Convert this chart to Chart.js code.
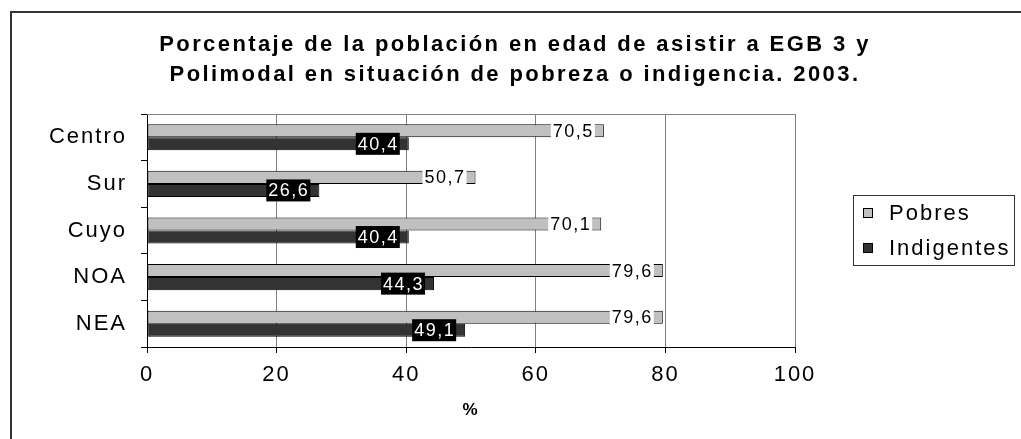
<!DOCTYPE html>
<html lang="es">
<head>
<meta charset="utf-8">
<title>Pobreza e indigencia 2003</title>
<script src="https://cdn.jsdelivr.net/npm/chart.js@4/dist/chart.umd.min.js"></script>
<style>
    html, body { margin: 0; padding: 0; background: #fff; }
    #wrap { width: 1021px; height: 439px; position: relative; }
</style>
</head>
<body>
<div id="wrap"><canvas id="chart"></canvas></div>
<script>
// Data
const regiones = ['Centro', 'Sur', 'Cuyo', 'NOA', 'NEA'];
const pobres = [70.5, 50.7, 70.1, 79.6, 79.6];
const indigentes = [40.4, 26.6, 40.4, 44.3, 49.1];
const escalaX = [0, 20, 40, 60, 80, 100];
const tituloLineas = [
    'Porcentaje de la población en edad de asistir a EGB 3 y',
    'Polimodal en situación de pobreza o indigencia. 2003.'
];

const FONT = "'Liberation Sans', Arial, sans-serif";

function fmt(v) {
    return v.toFixed(1).replace('.', ',');
}

// outer frame, plot top line, text spacing
const framePlugin = {
    id: 'frame',
    beforeDraw(chart) {
        const ctx = chart.ctx;
        ctx.save();
        ctx.strokeStyle = '#333';
        ctx.lineWidth = 2;
        ctx.strokeRect(11, 12, 1200, 600);
        ctx.restore();
        ctx.letterSpacing = '2px';
    },
    beforeDatasetsDraw(chart) {
        const { ctx, chartArea } = chart;
        ctx.save();
        ctx.strokeStyle = '#808080';
        ctx.lineWidth = 1;
        ctx.beginPath();
        ctx.moveTo(chartArea.left, chartArea.top + 0.5);
        ctx.lineTo(chartArea.right, chartArea.top + 0.5);
        ctx.stroke();
        ctx.restore();
    }
};

// value boxes at the end of each bar
const labelPlugin = {
    id: 'valueLabels',
    afterDatasetsDraw(chart) {
        const ctx = chart.ctx;
        ctx.save();
        ctx.font = '18px ' + FONT;
        ctx.letterSpacing = '1.5px';
        ctx.textBaseline = 'middle';
        ctx.textAlign = 'left';
        chart.data.datasets.forEach((ds, di) => {
            const meta = chart.getDatasetMeta(di);
            meta.data.forEach((bar, i) => {
                const txt = fmt(ds.data[i]);
                const w = ctx.measureText(txt).width;
                const right = bar.x - 10;
                const h = 22;
                ctx.fillStyle = di === 0 ? '#fff' : '#000';
                ctx.fillRect(right - w - 2, bar.y - h / 2, w + 3, h);
                ctx.fillStyle = di === 0 ? '#000' : '#fff';
                ctx.fillText(txt, right - w, bar.y + 1);
            });
        });
        ctx.restore();
    }
};

// title and legend drawn by hand to sit where the original has them
const titleLegendPlugin = {
    id: 'titleLegend',
    afterDraw(chart) {
        const ctx = chart.ctx;
        ctx.save();
        ctx.fillStyle = '#000';
        ctx.font = 'bold 22px ' + FONT;
        ctx.letterSpacing = '2.4px';
        ctx.textAlign = 'center';
        ctx.textBaseline = 'alphabetic';
        ctx.fillText(tituloLineas[0], 515, 51);
        ctx.fillText(tituloLineas[1], 515, 81);

        // legend
        ctx.strokeStyle = '#333';
        ctx.lineWidth = 1;
        ctx.strokeRect(853.5, 195.5, 161, 70);
        ctx.font = '22px ' + FONT;
        ctx.letterSpacing = '2px';
        ctx.textAlign = 'left';
        ctx.textBaseline = 'middle';
        const rows = [213, 248];
        chart.data.datasets.forEach((ds, di) => {
            const y = rows[di];
            ctx.fillStyle = ds.backgroundColor;
            ctx.fillRect(863, y - 5, 10, 10);
            ctx.strokeStyle = '#000';
            ctx.strokeRect(863.5, y - 4.5, 9, 9);
            ctx.fillStyle = '#000';
            ctx.fillText(ds.label, 889, y + 1);
        });
        ctx.restore();
    }
};

const ctx = document.getElementById('chart').getContext('2d');
new Chart(ctx, {
    type: 'bar',
    data: {
        labels: regiones,
        datasets: [
            {
                label: 'Pobres',
                data: pobres,
                backgroundColor: '#c0c0c0',
                borderColor: '#000',
                borderWidth: 1,
                borderSkipped: false
            },
            {
                label: 'Indigentes',
                data: indigentes,
                backgroundColor: '#333333',
                borderColor: '#000',
                borderWidth: 1,
                borderSkipped: false
            }
        ]
    },
    options: {
        indexAxis: 'y',
        responsive: true,
        maintainAspectRatio: false,
        animation: false,
        events: [],
        layout: { padding: { left: 0, top: 114, right: 226, bottom: 0 } },
        datasets: {
            bar: { categoryPercentage: 0.56, barPercentage: 1.0 }
        },
        scales: {
            x: {
                min: escalaX[0],
                max: escalaX[escalaX.length - 1],
                afterBuildTicks(scale) {
                    scale.ticks = escalaX.map(v => ({ value: v }));
                },
                afterFit(scale) { scale.height = 92; },
                grid: { color: '#808080', tickLength: 6, tickColor: '#000' },
                border: { color: '#000', width: 1 },
                ticks: {
                    color: '#000',
                    padding: 9,
                    font: { family: FONT, size: 22 }
                },
                title: {
                    display: true,
                    text: '%',
                    color: '#000',
                    font: { family: FONT, size: 17, weight: 'bold' },
                    padding: { top: 4, bottom: 18 }
                }
            },
            y: {
                afterFit(scale) { scale.width = 147; },
                grid: { drawOnChartArea: false, color: '#000', tickLength: 6 },
                border: { color: '#000', width: 1 },
                ticks: {
                    color: '#000',
                    padding: 14,
                    font: { family: FONT, size: 22 }
                }
            }
        },
        plugins: {
            legend: { display: false },
            title: { display: false },
            tooltip: { enabled: false }
        }
    },
    plugins: [framePlugin, labelPlugin, titleLegendPlugin]
});
</script>
</body>
</html>
